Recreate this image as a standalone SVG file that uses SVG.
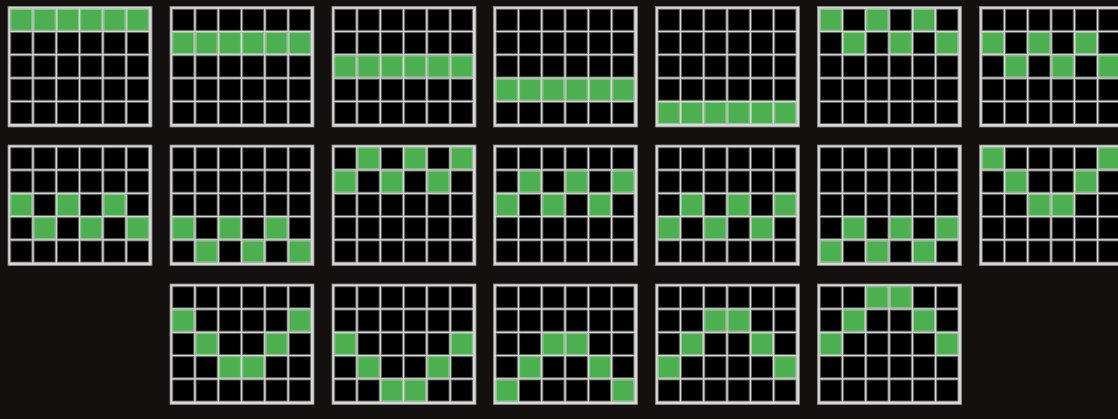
<svg xmlns="http://www.w3.org/2000/svg" xmlns:xlink="http://www.w3.org/1999/xlink" width="1118" height="419" viewBox="0 0 1118 419">
<style>
.frame{fill:#d7d7d7;stroke:#8a8a8a;stroke-width:0.8}
.c{fill:#000;stroke:#5e5e5e;stroke-width:0.9}
.g{fill:#4caf50;stroke:#9ed69f;stroke-width:0.9}
</style>
<defs>
<g id="grid">
<rect class="frame" x="0" y="0" width="144" height="120.5"/>
<rect class="c" x="2.8" y="2.8" width="21" height="21"/><rect class="c" x="26.1" y="2.8" width="21" height="21"/><rect class="c" x="49.4" y="2.8" width="21" height="21"/><rect class="c" x="72.7" y="2.8" width="21" height="21"/><rect class="c" x="96" y="2.8" width="21" height="21"/><rect class="c" x="119.3" y="2.8" width="21" height="21"/>
<rect class="c" x="2.8" y="26.1" width="21" height="21"/><rect class="c" x="26.1" y="26.1" width="21" height="21"/><rect class="c" x="49.4" y="26.1" width="21" height="21"/><rect class="c" x="72.7" y="26.1" width="21" height="21"/><rect class="c" x="96" y="26.1" width="21" height="21"/><rect class="c" x="119.3" y="26.1" width="21" height="21"/>
<rect class="c" x="2.8" y="49.4" width="21" height="21"/><rect class="c" x="26.1" y="49.4" width="21" height="21"/><rect class="c" x="49.4" y="49.4" width="21" height="21"/><rect class="c" x="72.7" y="49.4" width="21" height="21"/><rect class="c" x="96" y="49.4" width="21" height="21"/><rect class="c" x="119.3" y="49.4" width="21" height="21"/>
<rect class="c" x="2.8" y="72.7" width="21" height="21"/><rect class="c" x="26.1" y="72.7" width="21" height="21"/><rect class="c" x="49.4" y="72.7" width="21" height="21"/><rect class="c" x="72.7" y="72.7" width="21" height="21"/><rect class="c" x="96" y="72.7" width="21" height="21"/><rect class="c" x="119.3" y="72.7" width="21" height="21"/>
<rect class="c" x="2.8" y="96" width="21" height="21"/><rect class="c" x="26.1" y="96" width="21" height="21"/><rect class="c" x="49.4" y="96" width="21" height="21"/><rect class="c" x="72.7" y="96" width="21" height="21"/><rect class="c" x="96" y="96" width="21" height="21"/><rect class="c" x="119.3" y="96" width="21" height="21"/>
</g>
</defs>
<rect x="0" y="0" width="1118" height="419" fill="#151010"/>

<g id="p1" transform="translate(8,6.5)"><use xlink:href="#grid"/>
<rect class="g" x="2.8" y="2.8" width="21" height="21"/><rect class="g" x="26.1" y="2.8" width="21" height="21"/><rect class="g" x="49.4" y="2.8" width="21" height="21"/><rect class="g" x="72.7" y="2.8" width="21" height="21"/><rect class="g" x="96" y="2.8" width="21" height="21"/><rect class="g" x="119.3" y="2.8" width="21" height="21"/></g>
<g id="p2" transform="translate(170,6.5)"><use xlink:href="#grid"/>
<rect class="g" x="2.8" y="26.1" width="21" height="21"/><rect class="g" x="26.1" y="26.1" width="21" height="21"/><rect class="g" x="49.4" y="26.1" width="21" height="21"/><rect class="g" x="72.7" y="26.1" width="21" height="21"/><rect class="g" x="96" y="26.1" width="21" height="21"/><rect class="g" x="119.3" y="26.1" width="21" height="21"/></g>
<g id="p3" transform="translate(332,6.5)"><use xlink:href="#grid"/>
<rect class="g" x="2.8" y="49.4" width="21" height="21"/><rect class="g" x="26.1" y="49.4" width="21" height="21"/><rect class="g" x="49.4" y="49.4" width="21" height="21"/><rect class="g" x="72.7" y="49.4" width="21" height="21"/><rect class="g" x="96" y="49.4" width="21" height="21"/><rect class="g" x="119.3" y="49.4" width="21" height="21"/></g>
<g id="p4" transform="translate(493.5,6.5)"><use xlink:href="#grid"/>
<rect class="g" x="2.8" y="72.7" width="21" height="21"/><rect class="g" x="26.1" y="72.7" width="21" height="21"/><rect class="g" x="49.4" y="72.7" width="21" height="21"/><rect class="g" x="72.7" y="72.7" width="21" height="21"/><rect class="g" x="96" y="72.7" width="21" height="21"/><rect class="g" x="119.3" y="72.7" width="21" height="21"/></g>
<g id="p5" transform="translate(655.5,6.5)"><use xlink:href="#grid"/>
<rect class="g" x="2.8" y="96" width="21" height="21"/><rect class="g" x="26.1" y="96" width="21" height="21"/><rect class="g" x="49.4" y="96" width="21" height="21"/><rect class="g" x="72.7" y="96" width="21" height="21"/><rect class="g" x="96" y="96" width="21" height="21"/><rect class="g" x="119.3" y="96" width="21" height="21"/></g>
<g id="p6" transform="translate(817.5,6.5)"><use xlink:href="#grid"/>
<rect class="g" x="2.8" y="2.8" width="21" height="21"/><rect class="g" x="26.1" y="26.1" width="21" height="21"/><rect class="g" x="49.4" y="2.8" width="21" height="21"/><rect class="g" x="72.7" y="26.1" width="21" height="21"/><rect class="g" x="96" y="2.8" width="21" height="21"/><rect class="g" x="119.3" y="26.1" width="21" height="21"/></g>
<g id="p7" transform="translate(979.5,6.5)"><use xlink:href="#grid"/>
<rect class="g" x="2.8" y="26.1" width="21" height="21"/><rect class="g" x="26.1" y="49.4" width="21" height="21"/><rect class="g" x="49.4" y="26.1" width="21" height="21"/><rect class="g" x="72.7" y="49.4" width="21" height="21"/><rect class="g" x="96" y="26.1" width="21" height="21"/><rect class="g" x="119.3" y="49.4" width="21" height="21"/></g>

<g id="p8" transform="translate(8,145)"><use xlink:href="#grid"/>
<rect class="g" x="2.8" y="49.4" width="21" height="21"/><rect class="g" x="26.1" y="72.7" width="21" height="21"/><rect class="g" x="49.4" y="49.4" width="21" height="21"/><rect class="g" x="72.7" y="72.7" width="21" height="21"/><rect class="g" x="96" y="49.4" width="21" height="21"/><rect class="g" x="119.3" y="72.7" width="21" height="21"/></g>
<g id="p9" transform="translate(170,145)"><use xlink:href="#grid"/>
<rect class="g" x="2.8" y="72.7" width="21" height="21"/><rect class="g" x="26.1" y="96" width="21" height="21"/><rect class="g" x="49.4" y="72.7" width="21" height="21"/><rect class="g" x="72.7" y="96" width="21" height="21"/><rect class="g" x="96" y="72.7" width="21" height="21"/><rect class="g" x="119.3" y="96" width="21" height="21"/></g>
<g id="p10" transform="translate(332,145)"><use xlink:href="#grid"/>
<rect class="g" x="2.8" y="26.1" width="21" height="21"/><rect class="g" x="26.1" y="2.8" width="21" height="21"/><rect class="g" x="49.4" y="26.1" width="21" height="21"/><rect class="g" x="72.7" y="2.8" width="21" height="21"/><rect class="g" x="96" y="26.1" width="21" height="21"/><rect class="g" x="119.3" y="2.8" width="21" height="21"/></g>
<g id="p11" transform="translate(493.5,145)"><use xlink:href="#grid"/>
<rect class="g" x="2.8" y="49.4" width="21" height="21"/><rect class="g" x="26.1" y="26.1" width="21" height="21"/><rect class="g" x="49.4" y="49.4" width="21" height="21"/><rect class="g" x="72.7" y="26.1" width="21" height="21"/><rect class="g" x="96" y="49.4" width="21" height="21"/><rect class="g" x="119.3" y="26.1" width="21" height="21"/></g>
<g id="p12" transform="translate(655.5,145)"><use xlink:href="#grid"/>
<rect class="g" x="2.8" y="72.7" width="21" height="21"/><rect class="g" x="26.1" y="49.4" width="21" height="21"/><rect class="g" x="49.4" y="72.7" width="21" height="21"/><rect class="g" x="72.7" y="49.4" width="21" height="21"/><rect class="g" x="96" y="72.7" width="21" height="21"/><rect class="g" x="119.3" y="49.4" width="21" height="21"/></g>
<g id="p13" transform="translate(817.5,145)"><use xlink:href="#grid"/>
<rect class="g" x="2.8" y="96" width="21" height="21"/><rect class="g" x="26.1" y="72.7" width="21" height="21"/><rect class="g" x="49.4" y="96" width="21" height="21"/><rect class="g" x="72.7" y="72.7" width="21" height="21"/><rect class="g" x="96" y="96" width="21" height="21"/><rect class="g" x="119.3" y="72.7" width="21" height="21"/></g>
<g id="p14" transform="translate(979.5,145)"><use xlink:href="#grid"/>
<rect class="g" x="2.8" y="2.8" width="21" height="21"/><rect class="g" x="26.1" y="26.1" width="21" height="21"/><rect class="g" x="49.4" y="49.4" width="21" height="21"/><rect class="g" x="72.7" y="49.4" width="21" height="21"/><rect class="g" x="96" y="26.1" width="21" height="21"/><rect class="g" x="119.3" y="2.8" width="21" height="21"/></g>

<g id="p15" transform="translate(170,284)"><use xlink:href="#grid"/>
<rect class="g" x="2.8" y="26.1" width="21" height="21"/><rect class="g" x="26.1" y="49.4" width="21" height="21"/><rect class="g" x="49.4" y="72.7" width="21" height="21"/><rect class="g" x="72.7" y="72.7" width="21" height="21"/><rect class="g" x="96" y="49.4" width="21" height="21"/><rect class="g" x="119.3" y="26.1" width="21" height="21"/></g>
<g id="p16" transform="translate(332,284)"><use xlink:href="#grid"/>
<rect class="g" x="2.8" y="49.4" width="21" height="21"/><rect class="g" x="26.1" y="72.7" width="21" height="21"/><rect class="g" x="49.4" y="96" width="21" height="21"/><rect class="g" x="72.7" y="96" width="21" height="21"/><rect class="g" x="96" y="72.7" width="21" height="21"/><rect class="g" x="119.3" y="49.4" width="21" height="21"/></g>
<g id="p17" transform="translate(493.5,284)"><use xlink:href="#grid"/>
<rect class="g" x="2.8" y="96" width="21" height="21"/><rect class="g" x="26.1" y="72.7" width="21" height="21"/><rect class="g" x="49.4" y="49.4" width="21" height="21"/><rect class="g" x="72.7" y="49.4" width="21" height="21"/><rect class="g" x="96" y="72.7" width="21" height="21"/><rect class="g" x="119.3" y="96" width="21" height="21"/></g>
<g id="p18" transform="translate(655.5,284)"><use xlink:href="#grid"/>
<rect class="g" x="2.8" y="72.7" width="21" height="21"/><rect class="g" x="26.1" y="49.4" width="21" height="21"/><rect class="g" x="49.4" y="26.1" width="21" height="21"/><rect class="g" x="72.7" y="26.1" width="21" height="21"/><rect class="g" x="96" y="49.4" width="21" height="21"/><rect class="g" x="119.3" y="72.7" width="21" height="21"/></g>
<g id="p19" transform="translate(817.5,284)"><use xlink:href="#grid"/>
<rect class="g" x="2.8" y="49.4" width="21" height="21"/><rect class="g" x="26.1" y="26.1" width="21" height="21"/><rect class="g" x="49.4" y="2.8" width="21" height="21"/><rect class="g" x="72.7" y="2.8" width="21" height="21"/><rect class="g" x="96" y="26.1" width="21" height="21"/><rect class="g" x="119.3" y="49.4" width="21" height="21"/></g>
<g id="connectors"/>
</svg>
